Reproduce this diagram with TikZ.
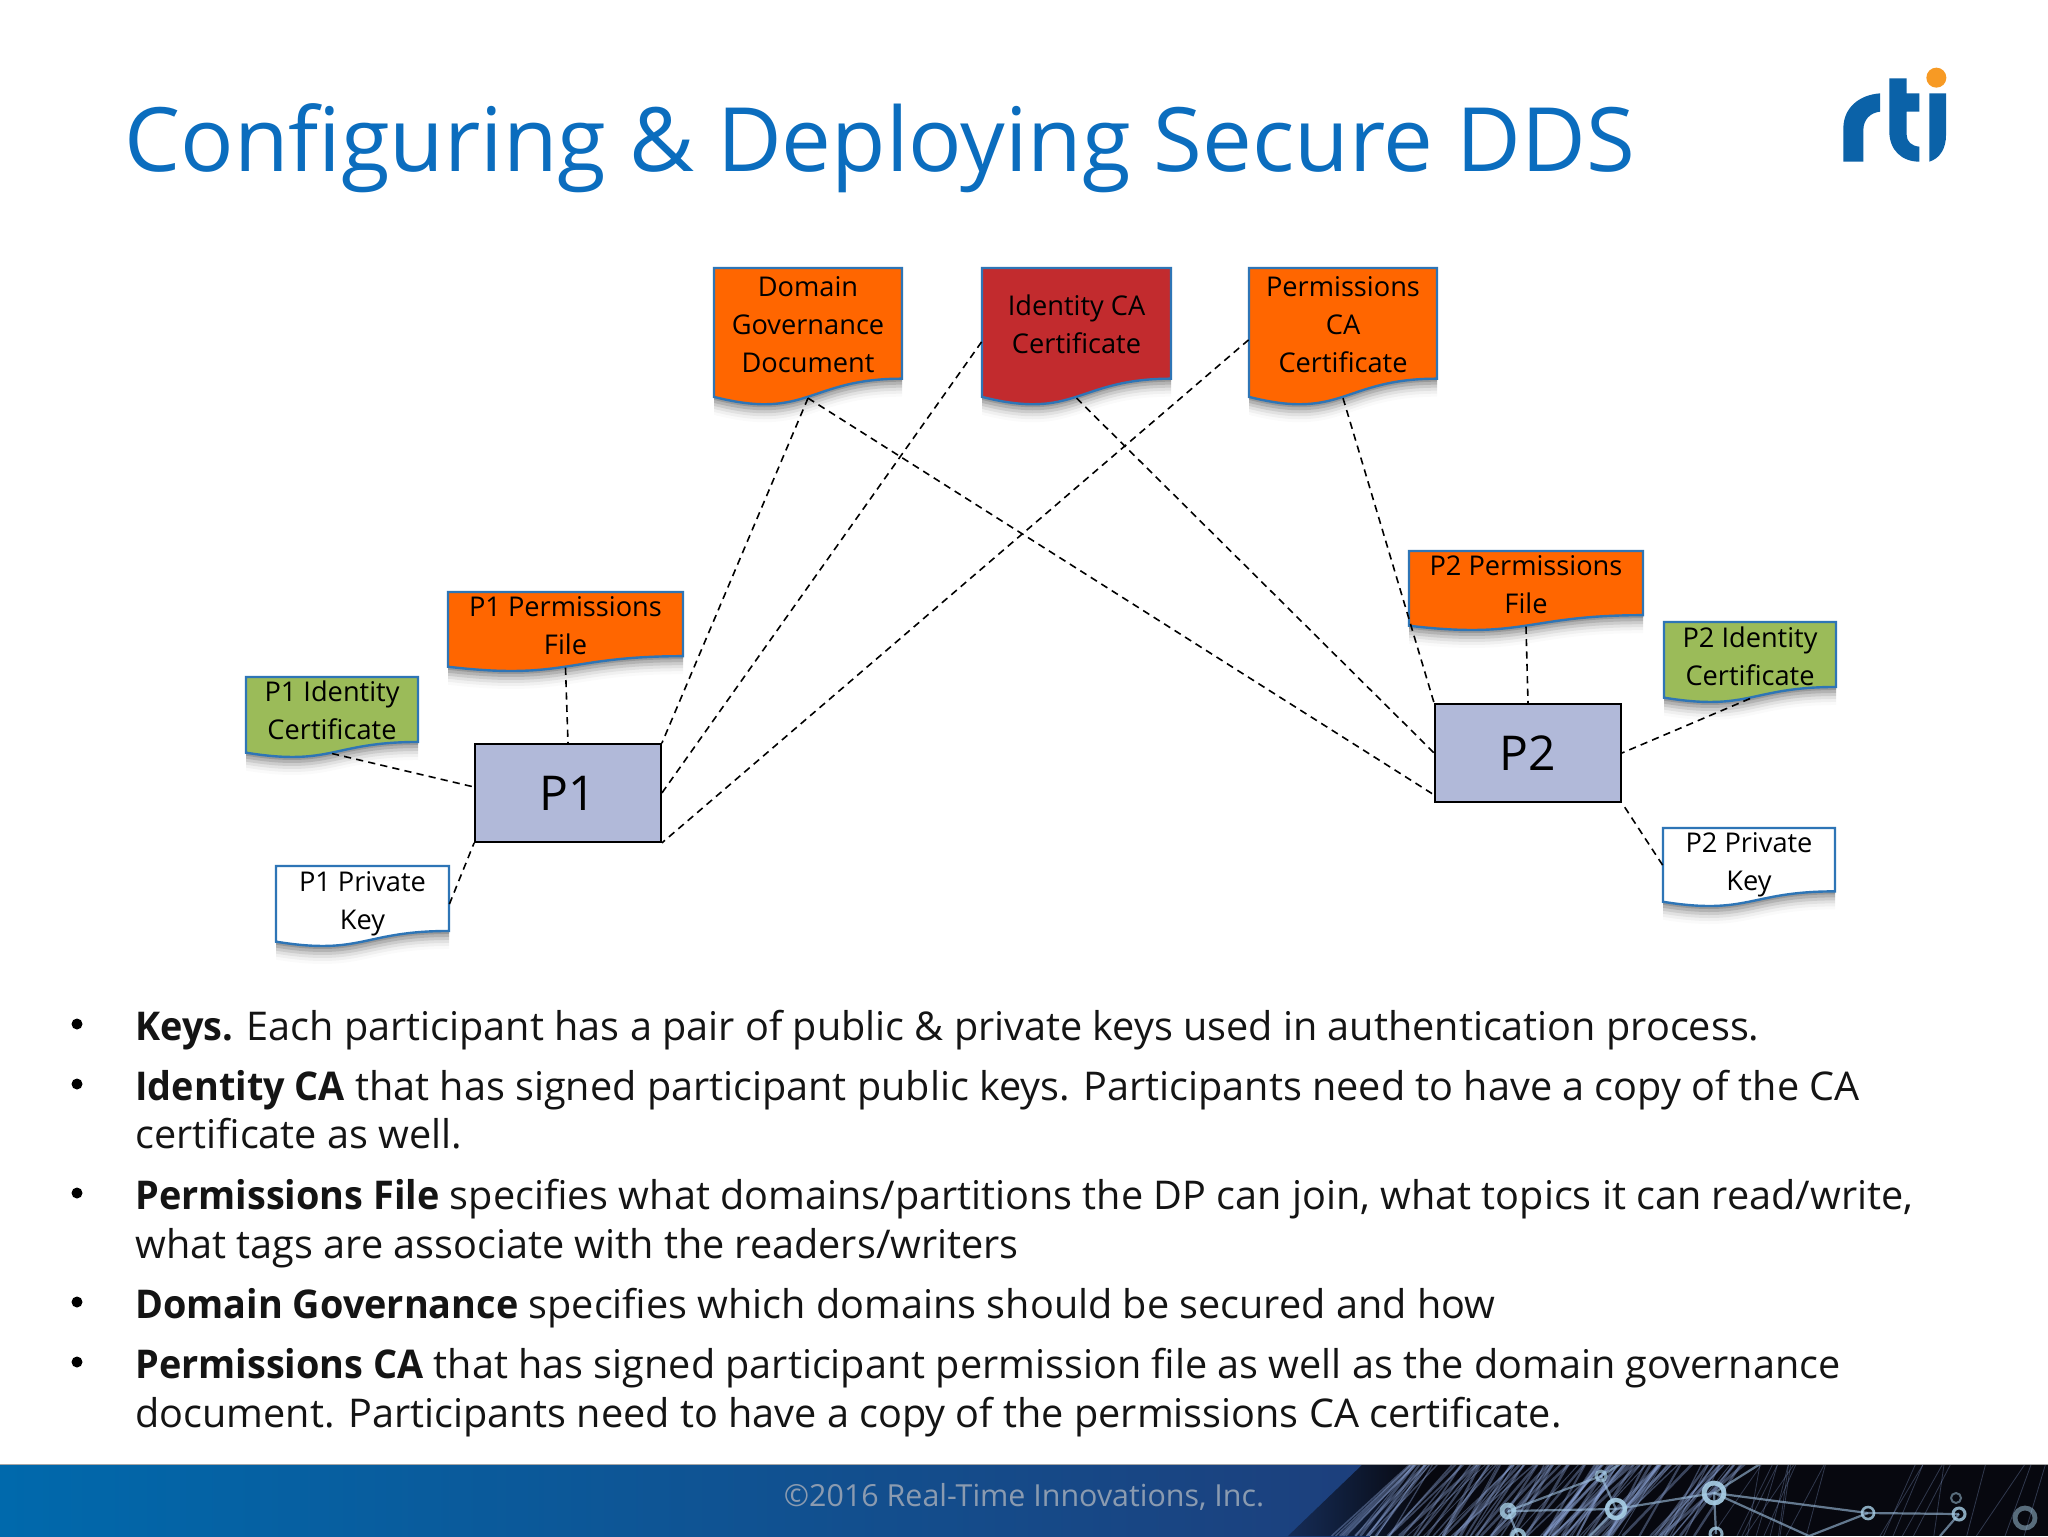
\documentclass[tikz,border=0pt]{standalone}
\usepackage{fontspec}
\setmainfont{Open Sans}[BoldFeatures={FakeStretch=0.955}]
\usetikzlibrary{calc}
\definecolor{titleblue}{HTML}{0B6DBE}
\definecolor{docborder}{HTML}{2E75B6}
\definecolor{docorange}{HTML}{FF6600}
\definecolor{docred}{HTML}{C22B2E}
\definecolor{docgreen}{HTML}{9BBB59}
\definecolor{boxblue}{HTML}{B1B9D9}
\definecolor{footl}{HTML}{0069AC}
\definecolor{footr}{HTML}{1D3F7C}
\definecolor{netblue}{HTML}{8FA8DC}
\definecolor{netcyan}{HTML}{A9D0E8}
\definecolor{footdark}{HTML}{07080F}
\definecolor{foottext}{HTML}{8B9BB0}
\definecolor{logoblue}{HTML}{0B62A8}
\definecolor{logodot}{HTML}{F79A24}
\tikzset{
  x=.5pt,y=-.5pt,
  doclabel/.style={align=center,inner sep=0pt,font=\fontsize{13.6}{19}\selectfont},
  docanchor/.style={inner sep=0pt,draw=none},
  part/.style={draw=black,line width=.9pt,fill=boxblue,minimum width=93pt,minimum height=49pt,inner sep=0pt,font=\fontsize{24}{28}\selectfont},
  link/.style={draw=black,line width=.8pt,dash pattern=on 3.6pt off 2.6pt},
  bodyline/.style={anchor=base west,inner sep=0pt,font=\fontsize{19.8}{24}\selectfont,text=black!92},
  bullet/.style={circle,fill=black,inner sep=0pt,minimum size=5.5pt},
}
% name, x0, y0, x1, h, fill, text centre y, text
\newcommand{\docnode}[8]{%
  \pgfmathsetmacro{\xm}{(#2+#4)/2}%
  \pgfmathsetmacro{\yr}{#3+.802*#5}%
  \pgfmathsetmacro{\yc}{#3+1.1075*#5}%
  \pgfmathsetmacro{\yl}{#3+.934*#5}%
  \foreach \sh/\op in {3/.14,6/.12,9/.09,12/.06,15/.04,18/.02}{%
    \fill[black,opacity=\op] (#2,#3+\sh) -- (#4,#3+\sh) -- (#4,\yr+\sh) .. controls (\xm,\yr+\sh) and (\xm,\yc+\sh) .. (#2,\yl+\sh) -- cycle;
  }%
  \draw[docborder,line width=1.2pt,fill=#6] (#2,#3) -- (#4,#3) -- (#4,\yr) .. controls (\xm,\yr) and (\xm,\yc) .. (#2,\yl) -- cycle;
  \pgfmathsetmacro{\hh}{.94*#5}%
  \pgfmathsetmacro{\wpt}{(#4-#2)*.5}%
  \pgfmathsetmacro{\hpt}{\hh*.5}%
  \node[docanchor,minimum width=\wpt pt,minimum height=\hpt pt] (#1) at (\xm,#3+\hh/2) {};
  \node[doclabel] (#1-text) at (\xm,#7) {#8};
}
\begin{document}
\begin{tikzpicture}
\useasboundingbox (0,0) rectangle (2048,1536);
\fill[white] (0,0) rectangle (2048,1536);
% title
\node[anchor=base west,inner sep=0pt,text=titleblue,font=\fontsize{44.4}{50}\selectfont] (title) at (124,171) {Configuring \& Deploying Secure DDS};
% logo
\begin{scope}[shift={(1800,40)},x=.16667pt,y=-.16667pt]
  \fill[logoblue] (240,160) .. controls (175,165) and (130,205) .. (130,265) -- (130,365) -- (190,365) -- (190,270) .. controls (190,240) and (210,218) .. (240,215) -- cycle;
  \fill[logoblue] (268,115) -- (320,115) -- (320,160) -- (358,160) -- (358,215) -- (320,215) -- (320,285) .. controls (320,305) and (335,318) .. (358,320) -- (358,365) .. controls (305,365) and (268,330) .. (268,275) -- cycle;
  \fill[logoblue] (388,160) -- (438,160) -- (438,285) .. controls (438,325) and (420,355) .. (388,365) -- cycle;
  \fill[logodot] (409,113) circle [radius=30];
\end{scope}
% documents
\docnode{dg}{714}{268}{902}{138}{docorange}{325}{Domain\\Governance\\Document}
\docnode{idca}{982}{268}{1171}{138}{docred}{324}{Identity CA\\Certificate}
\docnode{pca}{1249}{268}{1437}{138}{docorange}{325}{Permissions\\CA\\Certificate}
\docnode{pperma}{448}{592}{683}{80}{docorange}{626}{P1 Permissions\\File}
\docnode{pida}{246}{677}{418}{81}{docgreen}{710}{P1 Identity\\Certificate}
\docnode{pkeya}{276}{866}{449}{81}{white}{904}{P1 Private\\Key}
\docnode{ppermb}{1409}{551}{1643}{80}{docorange}{585}{P2 Permissions\\File}
\docnode{pidb}{1664}{622}{1836}{81}{docgreen}{656}{P2 Identity\\Certificate}
\docnode{pkeyb}{1663}{828}{1835}{79}{white}{865}{P2 Private\\Key}
% participants
\node[part,text depth=-2pt] (pa) at (568,793) {P1};
\node[part,text depth=-2pt] (pb) at (1528,753) {P2};
% connectors
\draw[link] (dg.south) -- ([yshift=4pt]pb.south west);
\draw[link] (dg.south) -- (pa.north east);
\draw[link] ([yshift=-4.5pt]idca.west) -- (pa.east);
\draw[link] (idca.south) -- (pb.west);
\draw[link] ([yshift=-3.5pt]pca.west) -- (pa.south east);
\draw[link] (pca.south) -- (pb.north west);
\draw[link] (pperma.south) -- (pa.north);
\draw[link] (pida.south) -- ([yshift=3pt]pa.west);
\draw[link] (pkeya.east) -- (pa.south west);
\draw[link] (ppermb.south) -- (pb.north);
\draw[link] (pidb.south) -- (pb.east);
\draw[link] (pkeyb.west) -- (pb.south east);
% bullets
\foreach \n/\y in {a/1024,b/1084,c/1193,d/1302,e/1362}{\node[bullet] (bul\n) at (77,\y) {};}
\node[bodyline] (l1) at (135,1040) {\textbf{Keys.} Each participant has a pair of public \& private keys used in authentication process.};
\node[bodyline] (l2) at (135,1100) {\textbf{Identity CA} that has signed participant public keys. Participants need to have a copy of the CA};
\node[bodyline] (l3) at (135,1148) {certificate as well.};
\node[bodyline] (l4) at (135,1209) {\textbf{Permissions File} specifies what domains/partitions the DP can join, what topics it can read/write,};
\node[bodyline] (l5) at (135,1258) {what tags are associate with the readers/writers};
\node[bodyline] (l6) at (135,1318) {\textbf{Domain Governance} specifies which domains should be secured and how};
\node[bodyline] (l7) at (135,1378) {\textbf{Permissions CA} that has signed participant permission file as well as the domain governance};
\node[bodyline] (l8) at (135,1427) {document. Participants need to have a copy of the permissions CA certificate.};
% footer
\shade[left color=footl,right color=footr] (0,1464) rectangle (1370,1536);
\begin{scope}
  \clip (1363,1464) -- (2048,1464) -- (2048,1536) -- (1288,1536) -- cycle;
  \shade[left color=footr!70!footdark,right color=footdark] (1280,1464) rectangle (1420,1536);
  \fill[footdark] (1420,1464) rectangle (2048,1536);
  \pgfmathsetseed{11}
  % dense strands
  \foreach \i in {1,...,110}{
    \pgfmathsetmacro{\xa}{1410+rnd*340}
    \pgfmathsetmacro{\xb}{\xa-35-rnd*50}
    \pgfmathsetmacro{\wd}{.4+rnd*1.1}
    \draw[netblue,line width=\wd pt,opacity=.38] (\xa,1464) -- (\xb,1536);
  }
  % sparse lines on the right
  \foreach \i in {1,...,22}{
    \pgfmathsetmacro{\xa}{1760+rnd*290}
    \pgfmathsetmacro{\xb}{\xa-10-rnd*40}
    \draw[netblue,line width=.4pt,opacity=.3] (\xa,1464) -- (\xb,1536);
  }
  % strong links
  \foreach \xa/\ya/\xb/\yb in {1714/1493/1868/1513,1868/1513/1959/1514,1714/1493/1616/1509,1616/1509/1508/1511,1714/1493/1809/1536,1601/1476/1508/1511,1601/1476/1616/1509,1714/1493/1716/1534,1868/1513/1809/1536,1714/1493/1760/1464,1601/1476/1620/1464,1616/1509/1590/1536,1508/1511/1518/1536,1959/1514/1940/1536}{
    \draw[netcyan!70!netblue,line width=1.1pt,opacity=.6] (\xa,\ya) -- (\xb,\yb);
  }
  % rings
  \foreach \x/\y/\r/\w/\o in {1714/1493/10/2.4/.9,1616/1509/9/2.2/.9,1601/1476/5/1.5/.7,1508/1511/6/2.4/.8,1868/1513/6/1.3/.8,1959/1514/6/1.5/.8,1956/1498/5/1/.5,2025/1518/10/2.4/.5,1716/1534/6/1.5/.8,1518/1536/6/2/.8}{
    \draw[netcyan,line width=\w pt,opacity=\o] (\x,\y) circle [radius=\r];
  }
\end{scope}
\draw[black!35] (0,1464) -- (2048,1464);
\node[inner sep=0pt,anchor=base,text=foottext,font=\fontsize{15.2}{18}\selectfont] (foot) at (1024,1506) {©2016 Real-Time Innovations, Inc.};
\end{tikzpicture}
\end{document}
